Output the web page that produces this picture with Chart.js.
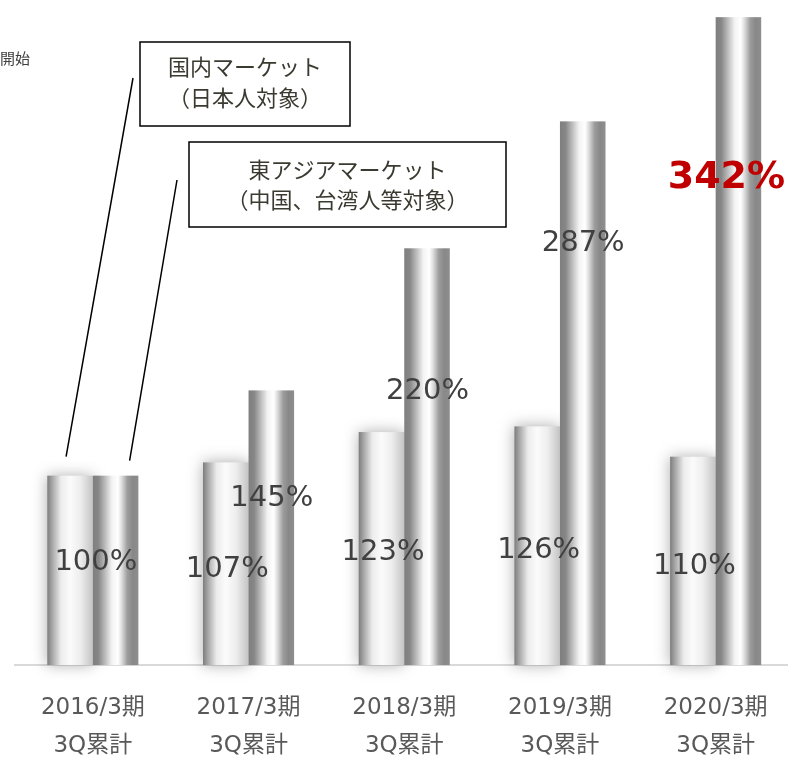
<!DOCTYPE html>
<html lang="ja">
<head>
<meta charset="utf-8">
<script src="https://cdn.jsdelivr.net/npm/chart.js@4"></script>
<style>
  html, body { margin: 0; padding: 0; background: #fff; overflow: hidden; }
  #wrap { position: relative; width: 800px; height: 794px; }
</style>
</head>
<body>
<div id="wrap"><canvas id="c"></canvas></div>
<script>
// Fiscal periods (cumulative through Q3)
const periods = [
  ['2016/3期', '3Q累計'],
  ['2017/3期', '3Q累計'],
  ['2018/3期', '3Q累計'],
  ['2019/3期', '3Q累計'],
  ['2020/3期', '3Q累計']
];
// Index vs. 2016/3期 = 100%
const domesticValues = [100, 107, 123, 126, 110];
const eastAsiaValues = [100, 145, 220, 287, 342];

// Height (in % units) at which each value label is centred
const domesticLabelAt = [54, 50.4, 59.3, 60.4, 51.9];
const eastAsiaLabelAt = [null, 88.2, 144.6, 222.3, 257];

const TEXT = '#404040';
const LABEL_FONT = '"DejaVu Sans", Verdana, sans-serif';
const JP_FONT = '"Noto Sans CJK JP", "Noto Sans", sans-serif';

// Metallic cylinder shading for each series
const domesticStops = [
  [0, '#7c7c7c'], [0.08, '#9c9c9c'], [0.3, '#ececec'],
  [0.5, '#fbfbfb'], [0.72, '#eeeeee'], [1, '#c4c4c4']
];
const eastAsiaStops = [
  [0, '#7f7f7f'], [0.12, '#868686'], [0.42, '#f3f3f3'],
  [0.55, '#ffffff'], [0.63, '#dedede'], [0.76, '#9c9c9c'],
  [0.88, '#888888'], [1, '#8e8e8e']
];

function paintBars(chart, dsIndex) {
  const ctx = chart.ctx;
  const ds = chart.data.datasets[dsIndex];
  chart.getDatasetMeta(dsIndex).data.forEach((bar) => {
    const left = bar.x - bar.width / 2;
    const right = bar.x + bar.width / 2;
    const g = ctx.createLinearGradient(left, 0, right, 0);
    ds.stops.forEach(([o, c]) => g.addColorStop(o, c));
    ctx.save();
    if (ds.glow) {
      ctx.shadowColor = 'rgba(0,0,0,0.32)';
      ctx.shadowBlur = 14;
    }
    ctx.fillStyle = g;
    ctx.fillRect(left, bar.y, bar.width, bar.base - bar.y);
    ctx.restore();
  });
}

// Domestic bars (with soft glow) first, East Asia bars over them
const cylinderBars = {
  id: 'cylinderBars',
  beforeDatasetsDraw(chart) {
    paintBars(chart, 0);
    paintBars(chart, 1);
  },
  beforeDatasetDraw() {
    return false;
  }
};

const valueLabels = {
  id: 'valueLabels',
  afterDatasetsDraw(chart) {
    const ctx = chart.ctx;
    const y = chart.scales.y;
    const x = chart.scales.x;
    const m0 = chart.getDatasetMeta(0).data;
    const m1 = chart.getDatasetMeta(1).data;
    ctx.save();
    ctx.textAlign = 'center';
    ctx.textBaseline = 'middle';
    domesticValues.forEach((v, i) => {
      // first period: both series equal, one shared label over the pair
      const cx = i === 0 ? x.getPixelForValue(0) + 3 : m0[i].x + 1.5;
      ctx.font = '29px ' + LABEL_FONT;
      ctx.fillStyle = TEXT;
      ctx.fillText(v + '%', cx, y.getPixelForValue(domesticLabelAt[i]));
    });
    eastAsiaValues.forEach((v, i) => {
      if (eastAsiaLabelAt[i] === null) return;
      const last = i === eastAsiaValues.length - 1;
      ctx.font = (last ? 'bold 38px ' : '29px ') + LABEL_FONT;
      ctx.fillStyle = last ? '#c00000' : TEXT;
      ctx.fillText(v + '%', m1[i].x + (last ? -12 : 0.5), y.getPixelForValue(eastAsiaLabelAt[i]));
    });
    ctx.restore();
  }
};

const callouts = {
  id: 'callouts',
  afterDraw(chart) {
    const ctx = chart.ctx;
    const m0 = chart.getDatasetMeta(0).data[0];
    const m1 = chart.getDatasetMeta(1).data[0];
    ctx.save();
    // leader lines from the boxes down to the first pair of bars
    ctx.strokeStyle = '#000';
    ctx.lineWidth = 1.5;
    ctx.beginPath();
    ctx.moveTo(133, 78);
    ctx.lineTo(m0.x - 4, m0.y - 19);
    ctx.moveTo(177, 180);
    ctx.lineTo(m1.x + 14, m1.y - 15);
    ctx.stroke();

    const boxes = [
      { x: 140, y: 42, w: 210, h: 84, lines: ['国内マーケット', '（日本人対象）'], ly: [67, 98] },
      { x: 189, y: 142, w: 317, h: 85, lines: ['東アジアマーケット', '（中国、台湾人等対象）'], ly: [170, 200] }
    ];
    boxes.forEach(b => {
      ctx.fillStyle = '#fff';
      ctx.fillRect(b.x, b.y, b.w, b.h);
      ctx.lineWidth = 1.5;
      ctx.strokeStyle = '#000';
      ctx.strokeRect(b.x, b.y, b.w, b.h);
      ctx.fillStyle = '#3b3a31';
      ctx.font = '22px ' + JP_FONT;
      ctx.textAlign = 'center';
      ctx.textBaseline = 'middle';
      b.lines.forEach((t, k) => ctx.fillText(t, b.x + b.w / 2, b.ly[k]));
    });

    ctx.fillStyle = '#404040';
    ctx.font = '15px ' + JP_FONT;
    ctx.textAlign = 'left';
    ctx.fillText('開始', 0, 58);
    ctx.restore();
  }
};

new Chart(document.getElementById('c'), {
  type: 'bar',
  data: {
    labels: periods,
    datasets: [
      { label: '国内マーケット', data: domesticValues, stops: domesticStops, glow: true },
      { label: '東アジアマーケット', data: eastAsiaValues, stops: eastAsiaStops, glow: false }
    ]
  },
  options: {
    responsive: true,
    maintainAspectRatio: false,
    animation: false,
    layout: { padding: { left: 15, right: 6.5, top: 2, bottom: 5 } },
    datasets: { bar: { barPercentage: 1, categoryPercentage: 0.585 } },
    plugins: { legend: { display: false }, tooltip: { enabled: false } },
    scales: {
      y: { display: false, min: 0, max: 350 },
      x: {
        grid: { display: false, drawTicks: false },
        border: { display: true, color: '#d9d9d9', width: 2 },
        ticks: {
          color: '#595959',
          padding: 24,
          maxRotation: 0,
          autoSkip: false,
          font: { family: '"DejaVu Sans", "Noto Sans CJK JP", sans-serif', size: 23, lineHeight: 1.65 }
        }
      }
    }
  },
  plugins: [cylinderBars, valueLabels, callouts]
});
</script>
</body>
</html>
